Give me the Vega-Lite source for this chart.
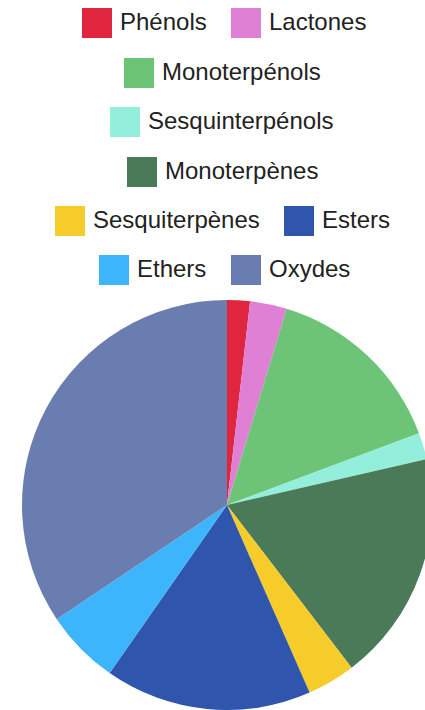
{
  "$schema": "https://vega.github.io/schema/vega-lite/v6.json",
  "autosize": "none",
  "width": 396,
  "height": 410,
  "padding": {"left": 29, "top": 300, "right": 0, "bottom": 0},
  "background": "white",
  "data": {"values": [
    {"category": "Phénols", "value": 1.8, "order": 1},
    {"category": "Lactones", "value": 2.9, "order": 2},
    {"category": "Monoterpénols", "value": 14.6, "order": 3},
    {"category": "Sesquinterpénols", "value": 2.1, "order": 4},
    {"category": "Monoterpènes", "value": 18.2, "order": 5},
    {"category": "Sesquiterpènes", "value": 3.8, "order": 6},
    {"category": "Esters", "value": 16.3, "order": 7},
    {"category": "Ethers", "value": 5.9, "order": 8},
    {"category": "Oxydes", "value": 34.4, "order": 9}
  ]},
  "config": {
    "view": {"stroke": null},
    "legend": {
      "orient": "none",
      "direction": "horizontal",
      "title": null,
      "padding": 0,
      "symbolType": "square",
      "symbolSize": 900,
      "symbolStrokeWidth": 0,
      "symbolOpacity": 1,
      "labelFont": "Liberation Sans",
      "labelFontSize": 24,
      "labelColor": "#222222",
      "labelOffset": 8,
      "columnPadding": 24,
      "labelLimit": 400
    }
  },
  "layer": [
    {
      "mark": {"type": "arc", "radius": 205},
      "encoding": {
        "theta": {"field": "value", "type": "quantitative", "stack": true},
        "order": {"field": "order", "type": "quantitative"},
        "color": {
          "field": "category", "type": "nominal", "legend": null,
          "scale": {
            "domain": ["Phénols", "Lactones", "Monoterpénols", "Sesquinterpénols", "Monoterpènes", "Sesquiterpènes", "Esters", "Ethers", "Oxydes"],
            "range": ["#e0263f", "#df80d4", "#6dc476", "#93eedc", "#4a7a58", "#f6cc2b", "#2f55ad", "#3cb5fc", "#6a7db0"]
          }
        }
      }
    },
    {
      "transform": [{"filter": {"field": "category", "oneOf": ["Phénols", "Lactones"]}}],
      "mark": {"type": "arc", "radius": 0},
      "encoding": {
        "color": {"field": "category", "type": "nominal",
          "scale": {"domain": ["Phénols", "Lactones"], "range": ["#e0263f", "#df80d4"]},
          "legend": {"legendX": 53, "legendY": -292}}
      }
    },
    {
      "transform": [{"filter": {"field": "category", "oneOf": ["Monoterpénols"]}}],
      "mark": {"type": "arc", "radius": 0},
      "encoding": {
        "color": {"field": "category", "type": "nominal",
          "scale": {"domain": ["Monoterpénols"], "range": ["#6dc476"]},
          "legend": {"legendX": 95, "legendY": -242}}
      }
    },
    {
      "transform": [{"filter": {"field": "category", "oneOf": ["Sesquinterpénols"]}}],
      "mark": {"type": "arc", "radius": 0},
      "encoding": {
        "color": {"field": "category", "type": "nominal",
          "scale": {"domain": ["Sesquinterpénols"], "range": ["#93eedc"]},
          "legend": {"legendX": 81, "legendY": -193}}
      }
    },
    {
      "transform": [{"filter": {"field": "category", "oneOf": ["Monoterpènes"]}}],
      "mark": {"type": "arc", "radius": 0},
      "encoding": {
        "color": {"field": "category", "type": "nominal",
          "scale": {"domain": ["Monoterpènes"], "range": ["#4a7a58"]},
          "legend": {"legendX": 98, "legendY": -143}}
      }
    },
    {
      "transform": [{"filter": {"field": "category", "oneOf": ["Sesquiterpènes", "Esters"]}}],
      "mark": {"type": "arc", "radius": 0},
      "encoding": {
        "color": {"field": "category", "type": "nominal",
          "scale": {"domain": ["Sesquiterpènes", "Esters"], "range": ["#f6cc2b", "#2f55ad"]},
          "legend": {"legendX": 26, "legendY": -94}}
      }
    },
    {
      "transform": [{"filter": {"field": "category", "oneOf": ["Ethers", "Oxydes"]}}],
      "mark": {"type": "arc", "radius": 0},
      "encoding": {
        "color": {"field": "category", "type": "nominal",
          "scale": {"domain": ["Ethers", "Oxydes"], "range": ["#3cb5fc", "#6a7db0"]},
          "legend": {"legendX": 70, "legendY": -45}}
      }
    }
  ],
  "resolve": {"scale": {"color": "independent"}}
}
